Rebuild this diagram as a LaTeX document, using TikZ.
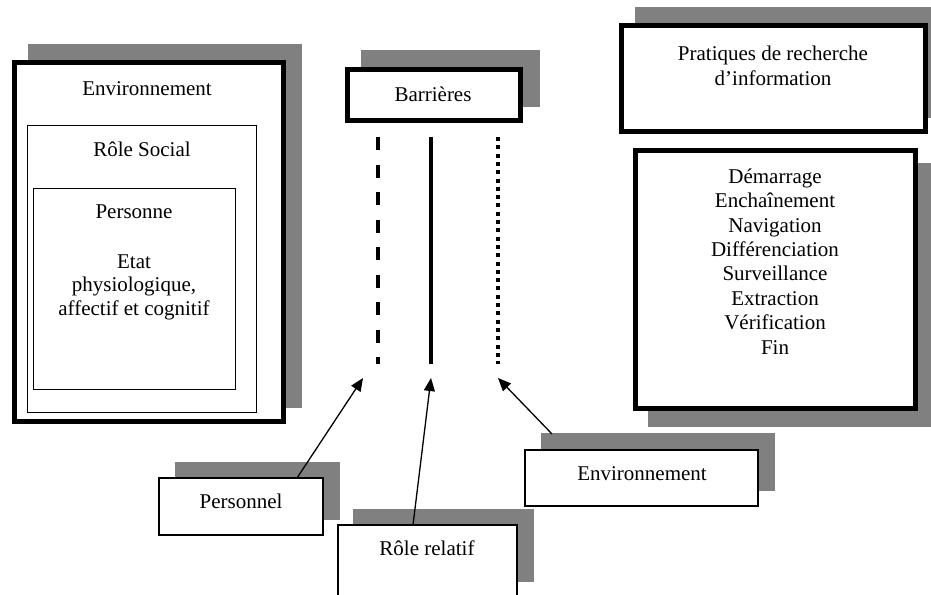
\documentclass[tikz,border=0pt]{standalone}
\usepackage{fontspec}
\setmainfont{Liberation Serif}
\usetikzlibrary{arrows.meta}
\definecolor{shadowgray}{RGB}{128,128,128}
\begin{document}
\begin{tikzpicture}[x=1pt,y=-1pt,
  shadowbox/.style={fill=shadowgray, draw=none},
  boxbase/.style={draw, fill=white, inner sep=0pt, outer sep=0pt, anchor=north west},
  thickbox/.style={boxbase, line width=5pt},
  thinbox/.style={boxbase, line width=1.3pt},
  midbox/.style={boxbase, line width=2pt},
  lbl/.style={font=\fontsize{21}{24.4}\selectfont, inner sep=0pt, anchor=base, align=center},
  barline/.style={line width=4pt},
  arr/.style={line width=1.3pt, -{Triangle[length=13pt,width=11pt]}},
]
\useasboundingbox (0,0) rectangle (931,594);
\clip (0,0) rectangle (931,594);

% shadows
\fill[shadowbox] (28,44) rectangle (302,408);
\fill[shadowbox] (361,50) rectangle (540,107);
\fill[shadowbox] (635,7) rectangle (944,118);
\fill[shadowbox] (648,163) rectangle (934,427);
\fill[shadowbox] (175,462) rectangle (340,520);
\fill[shadowbox] (353,509) rectangle (534,582);
\fill[shadowbox] (541,433) rectangle (775,491);

% boxes
\node[thickbox, minimum width=269pt, minimum height=359pt] (env) at (14.5,62.5) {};
\node[thinbox, minimum width=229pt, minimum height=287pt] (role) at (27.5,125.5) {};
\node[thinbox, minimum width=202pt, minimum height=201pt] (pers) at (33.5,188.5) {};
\node[thickbox, minimum width=173pt, minimum height=51pt] (barr) at (347.5,69.5) {};
\node[thickbox, minimum width=304pt, minimum height=106pt] (prat) at (621.5,25.5) {};
\node[thickbox, minimum width=280pt, minimum height=258pt] (dem) at (635.5,150.5) {};
\node[midbox, minimum width=164pt, minimum height=57pt] (persl) at (159,478) {};
\node[midbox, minimum width=179pt, minimum height=85pt] (relr) at (338,525) {};
\node[midbox, minimum width=233pt, minimum height=56pt] (envb) at (525,450) {};

% texts (anchor base = baseline of the last line)
\node[lbl] (tEnv) at (147,95) {Environnement};
\node[lbl] (tRole) at (142,156) {Rôle Social};
\node[lbl] (tPers) at (134,218) {Personne};
\node[lbl, font=\fontsize{21}{23.5}\selectfont] (tEtat) at (134,315) {Etat\\physiologique,\\affectif et cognitif};
\node[lbl] (tBarr) at (433,101) {Barrières};
\node[lbl, font=\fontsize{21}{25}\selectfont] (tPrat) at (773,85) {Pratiques de recherche\\d’information};
\node[lbl] (tDem) at (775,354) {Démarrage\\Enchaînement\\Navigation\\Différenciation\\Surveillance\\Extraction\\Vérification\\Fin};
\node[lbl] (tPersl) at (241,508) {Personnel};
\node[lbl] (tRel) at (427,555) {Rôle relatif};
\node[lbl] (tEnvb) at (642,480) {Environnement};

% barrier lines
\coordinate (b1t) at (378,137); \coordinate (b1b) at (378,364);
\coordinate (b2t) at (431,137); \coordinate (b2b) at (431,364);
\coordinate (b3t) at (498,137); \coordinate (b3b) at (498,364);
\draw[barline, dash pattern=on 13pt off 14.5pt] (b1t) -- (b1b);
\draw[barline, line width=3.5pt] (b2t) -- (b2b);
\draw[barline, dash pattern=on 4pt off 4.3pt] (b3t) -- (b3b);

% arrows
\coordinate (tipP) at (363,378);
\coordinate (tipR) at (431,378);
\coordinate (tipE) at (498,378);
\draw[arr] ([xshift=138pt]persl.north west) -- (tipP);
\draw[arr] ([xshift=75pt]relr.north west) -- (tipR);
\draw[arr] ([shift={(27pt,16pt)}]envb.north west) -- (tipE);
\end{tikzpicture}
\end{document}
